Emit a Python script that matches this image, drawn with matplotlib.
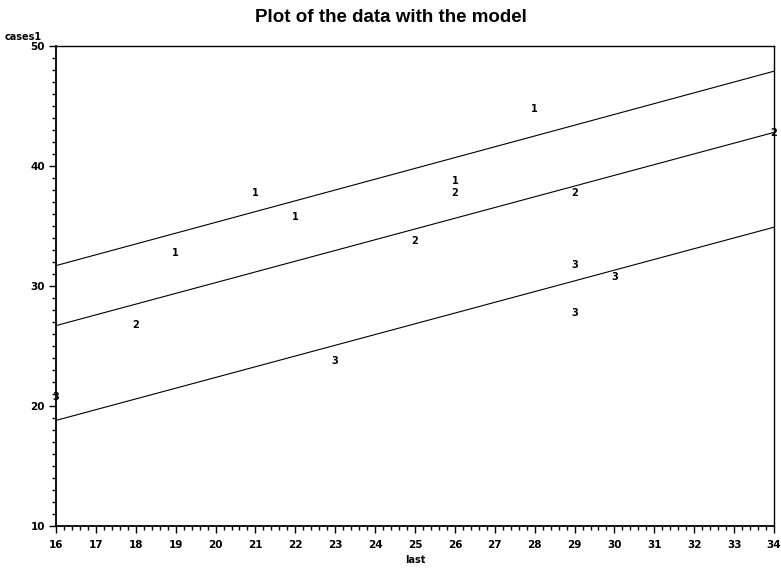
"""
Plot of the data with the model: cases1 against last, three groups with
parallel fitted lines.
"""

import matplotlib
matplotlib.use('Agg')
import matplotlib.pyplot as plt
from matplotlib.ticker import MultipleLocator

# Observed points, one list per group (plotted as the group number)
group1_x = [19, 21, 22, 26, 28]
group1_y = [33, 38, 36, 39, 45]
group2_x = [18, 25, 26, 29, 34]
group2_y = [27, 34, 38, 38, 43]
group3_x = [16, 23, 29, 29, 30]
group3_y = [21, 24, 32, 28, 31]

# Fitted model lines, value at each end of the x range
line_x = [16, 34]
fit1 = [31.7, 47.9]
fit2 = [26.7, 42.8]
fit3 = [18.8, 34.9]

groups = [('1', group1_x, group1_y), ('2', group2_x, group2_y), ('3', group3_x, group3_y)]

fig = plt.figure(figsize=(7.81, 5.69), dpi=100)
ax = fig.add_axes([56/781, 43/569, 718/781, 480/569])

# Model lines
for fit in [fit1, fit2, fit3]:
    ax.plot(line_x, fit, color='black', linewidth=0.8)

# Data points drawn as their group number
for label, xs, ys in groups:
    for x, y in zip(xs, ys):
        ax.text(x, y - 0.25, label, ha='center', va='center', fontsize=7,
                fontweight='bold', clip_on=False)

ax.set_xlim(16, 34)
ax.set_ylim(10, 50)

ax.xaxis.set_major_locator(MultipleLocator(1))
ax.xaxis.set_minor_locator(MultipleLocator(0.2))
ax.yaxis.set_major_locator(MultipleLocator(10))
ax.yaxis.set_minor_locator(MultipleLocator(1))

ax.tick_params(which='major', length=5, width=1, labelsize=7.5)
ax.tick_params(which='minor', length=3, width=1)
ax.tick_params(axis='x', pad=5)
ax.tick_params(axis='y', pad=3)
for lab in ax.get_xticklabels() + ax.get_yticklabels():
    lab.set_fontweight('bold')

for side, spine in ax.spines.items():
    spine.set_linewidth(1.3 if side in ('left', 'bottom') else 1.0)

# Axis labels placed like the original output
fig.text(5/781, 1 - 42/569, 'cases1', fontsize=7, fontweight='bold', va='bottom')
fig.text(0.5 + 25/781, 1 - 560/569, 'last', fontsize=7, fontweight='bold',
         ha='center', va='center')

fig.text(0.5, 1 - 18/569, 'Plot of the data with the model', fontsize=13.5,
         fontweight='heavy', family='Liberation Sans', ha='center', va='center')

fig.savefig('out.png', dpi=100)
